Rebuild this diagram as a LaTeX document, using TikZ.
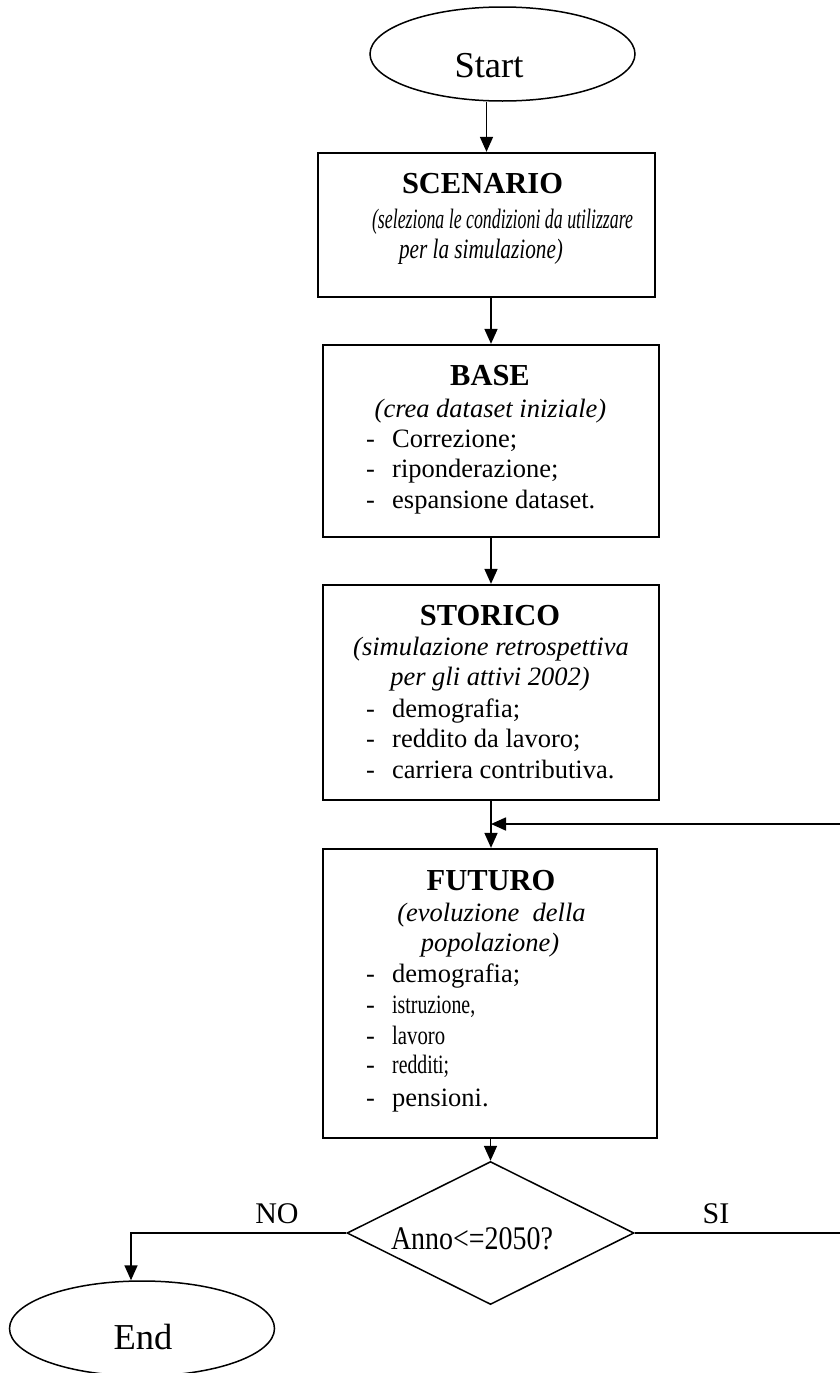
\documentclass[tikz,border=0pt]{standalone}
\usepackage{graphicx}
\usepackage{fontspec}
\setmainfont{Liberation Serif}
\usetikzlibrary{shapes.geometric,arrows.meta}
\newcommand\itm[1]{\makebox[26pt][l]{-}#1}
\tikzset{
  box/.style={draw, line width=2.3pt, inner sep=0pt},
  term/.style={draw, ellipse, line width=1.5pt, inner sep=0pt},
  dia/.style={draw, diamond, line width=1.5pt, inner sep=0pt},
  arr/.style={line width=1.7pt, -{Triangle[length=15pt,width=13pt]}},
  txt/.style={anchor=base, inner sep=0pt, font=\fontsize{26.5}{31}\selectfont},
  ttl/.style={anchor=base, inner sep=0pt, font=\fontsize{30.5}{34}\selectfont\bfseries},
  itx/.style={anchor=base, inner sep=0pt, font=\fontsize{26.5}{31}\selectfont\itshape},
  item/.style={anchor=base west, inner sep=0pt, font=\fontsize{26.5}{31}\selectfont},
  big/.style={anchor=base, inner sep=0pt, font=\fontsize{36.5}{40}\selectfont},
  lbl/.style={anchor=base, inner sep=0pt, font=\fontsize{30}{34}\selectfont},
}
\begin{document}
\begin{tikzpicture}[x=1pt,y=-1pt]
\useasboundingbox (0,0) rectangle (840,1373);
\fill[white] (0,0) rectangle (840,1373);
\clip (0,0) rectangle (840,1373);

% Start
\node[term, minimum width=265pt, minimum height=94pt] (start) at (502.5,54) {};
\node[big] (starttxt) at (489,77) {Start};

% SCENARIO
\node[box, minimum width=337pt, minimum height=144pt] (scen) at (486.5,225) {};
\node[ttl] (scent) at (482.5,193) {SCENARIO};
\node[itx] (scen1) at (502.5,228) {\resizebox{261pt}{\height}{\fontsize{28}{31}\selectfont(seleziona le condizioni da utilizzare}};
\node[itx] (scen2) at (481,258) {\resizebox{164pt}{\height}{\fontsize{28}{31}\selectfont per la simulazione)}};

% BASE
\node[box, minimum width=336pt, minimum height=192pt] (base) at (491,441) {};
\node[ttl] (baset) at (490,385) {BASE};
\node[itx] (base1) at (490.5,417) {(crea dataset iniziale)};
\node[item] (base2) at (366,447) {\itm{Correzione;}};
\node[item] (base3) at (366,477) {\itm{riponderazione;}};
\node[item] (base4) at (366,508) {\itm{espansione dataset.}};

% STORICO
\node[box, minimum width=336pt, minimum height=215pt] (stor) at (491,692.5) {};
\node[ttl] (stort) at (490,625) {STORICO};
\node[itx] (stor1) at (491,655) {(simulazione retrospettiva};
\node[itx] (stor2) at (490,685) {per gli attivi 2002)};
\node[item] (stor3) at (366,717) {\itm{demografia;}};
\node[item] (stor4) at (366,747) {\itm{reddito da lavoro;}};
\node[item] (stor5) at (366,778) {\itm{carriera contributiva.}};

% FUTURO
\node[box, minimum width=334pt, minimum height=289pt] (fut) at (490,993.5) {};
\node[ttl] (futt) at (491,890) {FUTURO};
\node[itx] (fut1) at (491.5,921) {(evoluzione\ \ della};
\node[itx] (fut2) at (490,951) {popolazione)};
\node[item] (fut3) at (366,982) {\itm{demografia;}};
\node[item] (fut4) at (366,1013) {\itm{\resizebox{83pt}{\height}{istruzione,}}};
\node[item] (fut5) at (366,1044) {\itm{\resizebox{53pt}{\height}{lavoro}}};
\node[item] (fut6) at (366,1073) {\itm{\resizebox{57pt}{\height}{redditi;}}};
\node[item] (fut7) at (366,1106) {\itm{pensioni.}};

% Decision
\node[dia, minimum width=287pt, minimum height=143pt] (dec) at (490.5,1233) {};
\node[anchor=base, inner sep=0pt, font=\fontsize{33}{36}\selectfont] (dect) at (472,1249) {\resizebox{162pt}{\height}{Anno<=2050?}};

% End
\node[term, minimum width=265pt, minimum height=95pt] (endn) at (142,1328.5) {};
\node[big] (endtxt) at (143,1349) {End};

% Labels
\node[lbl] (no) at (277,1223) {NO};
\node[lbl] (si) at (716,1223) {SI};

% Connectors
\coordinate (join) at (491,824);
\coordinate (loopT) at (860,824);
\coordinate (loopB) at (860,1233);
\coordinate (noc) at (131,1233);
\draw[arr] (start.south -| scen.north) -- (scen.north);
\draw[arr] (scen.south -| base.north) -- (base.north);
\draw[arr] (base.south) -- (stor.north);
\draw[arr] (stor.south) -- (fut.north -| stor.south);
\draw[arr] (fut.south -| dec.north) -- (dec.north);
\draw[arr] (dec.east) -- (loopB) -- (loopT) -- (join);
\draw[arr] (dec.west) -- (noc) -- (noc |- endn.north);
\end{tikzpicture}
\end{document}
